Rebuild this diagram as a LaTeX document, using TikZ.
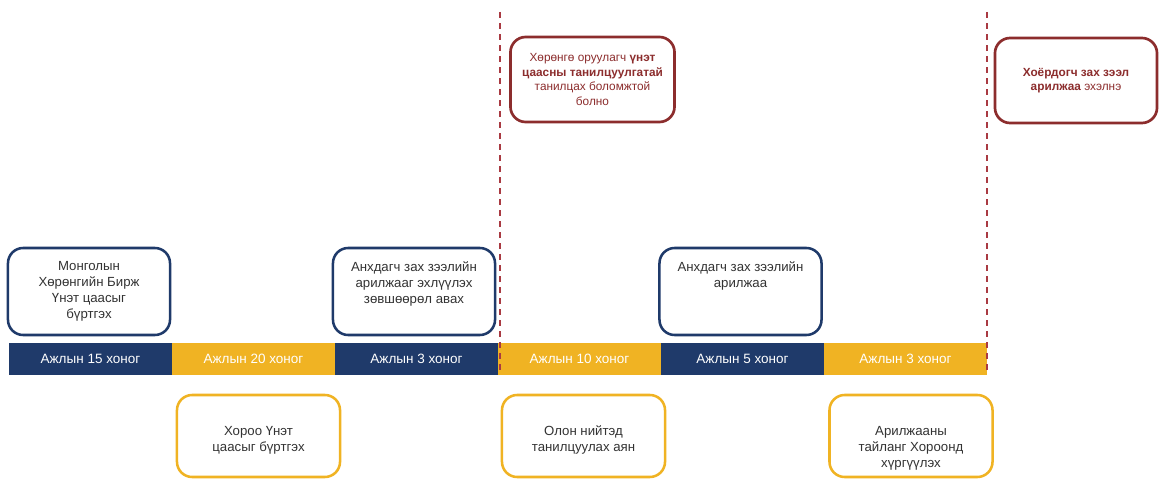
\documentclass[tikz,border=0pt]{standalone}
\usepackage{fontspec}
\setmainfont{Liberation Sans}
\usepackage{xcolor}
\usepackage{tikz}
\definecolor{navy}{HTML}{1F3A6A}
\definecolor{gold}{HTML}{F0B323}
\definecolor{wine}{HTML}{8C2D2D}
\definecolor{cutred}{HTML}{A93A42}
\definecolor{ink}{HTML}{333333}

\begin{document}
\begin{tikzpicture}[x=0.025cm,y=-0.025cm,
  every node/.style={font=\fontsize{9.4}{11.4}\selectfont, text=ink},
  seg/.style={fill=#1, minimum width=4.075cm, minimum height=0.8cm, inner sep=0pt, text=white,
    font=\fontsize{9.6}{11.4}\selectfont},
  card/.style={draw=#1, line width=1.8pt, rounded corners=0.38cm, fill=white},
  toptext/.style={anchor=north, align=center, inner sep=0pt, yshift=-0.37cm},
  bottext/.style={anchor=north, align=center, inner sep=0pt, yshift=-0.8cm},
  note/.style={draw=wine, line width=1.9pt, rounded corners=0.38cm, fill=white,
    minimum width=4.1cm, minimum height=2.125cm, align=center, text=wine,
    font=\fontsize{8.4}{10.2}\selectfont},
  cut/.style={draw=cutred, line width=1.4pt, dash pattern=on 0.15cm off 0.125cm}]

\useasboundingbox (0,0) rectangle (1160,479);

% timeline
\foreach \i/\d/\col in {0/15/navy,1/20/gold,2/3/navy,3/10/gold,4/5/navy,5/3/gold}
  \node[seg=\col] (s\i) at (90.5+163*\i,359) {Ажлын \d\ хоног};

% steps above
\node[card=navy, minimum width=4.05cm, minimum height=2.175cm,
  label={[toptext]north:Монголын\\Хөрөнгийн Бирж\\Үнэт цаасыг\\бүртгэх}] (reg) at (89,291.5) {};
\node[card=navy, minimum width=4.05cm, minimum height=2.175cm,
  label={[toptext]north:Анхдагч зах зээлийн\\арилжааг эхлүүлэх\\зөвшөөрөл авах}] (perm) at (414,291.5) {};
\node[card=navy, minimum width=4.05cm, minimum height=2.175cm,
  label={[toptext]north:Анхдагч зах зээлийн\\арилжаа}] (prim) at (740.5,291.5) {};

% steps below
\node[card=gold, minimum width=4.075cm, minimum height=2.05cm,
  label={[bottext]north:Хороо Үнэт\\цаасыг бүртгэх}] (comm) at (258.5,436) {};
\node[card=gold, minimum width=4.075cm, minimum height=2.05cm,
  label={[bottext]north:Олон нийтэд\\танилцуулах аян}] (camp) at (583.5,436) {};
\node[card=gold, minimum width=4.075cm, minimum height=2.05cm,
  label={[bottext]north:Арилжааны\\тайланг Хороонд\\хүргүүлэх}] (rep) at (911,436) {};

% milestones
\coordinate (c1a) at (500,12);
\coordinate (c1b) at (500,375);
\coordinate (c2a) at (987,12);
\coordinate (c2b) at (987,375);
\draw[cut] (c1a) -- (c1b);
\draw[cut] (c2a) -- (c2b);

\node[note] (inv) at (592.5,79.5) {Хөрөнгө оруулагч \textbf{үнэт}\\\textbf{цаасны танилцуулгатай}\\танилцах боломжтой\\болно};
\node[note, minimum width=4.05cm] (sec) at (1076,80.5) {\textbf{Хоёрдогч зах зээл}\\\textbf{арилжаа} эхэлнэ};
\end{tikzpicture}
\end{document}
